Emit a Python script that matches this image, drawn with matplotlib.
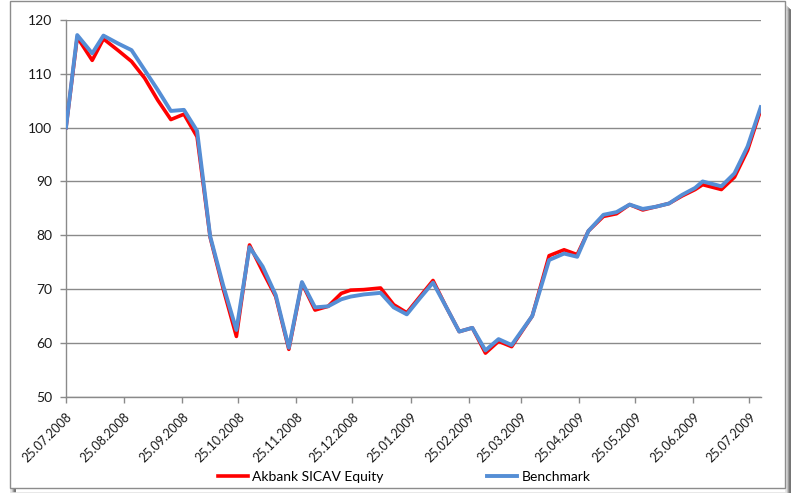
import numpy as np
import pandas as pd
import matplotlib
matplotlib.use("Agg")
import matplotlib.pyplot as plt
import matplotlib.dates as mdates
from matplotlib.patches import Rectangle

plt.rcParams["font.family"] = ["Lato", "DejaVu Sans"]

# NAV dates (weekly, with holiday / month-end shifts)
dates = [
    "25.07.2008", "31.07.2008", "08.08.2008", "14.08.2008", "22.08.2008", "29.08.2008",
    "05.09.2008", "12.09.2008", "19.09.2008", "26.09.2008", "03.10.2008", "10.10.2008",
    "17.10.2008", "24.10.2008", "31.10.2008", "07.11.2008", "14.11.2008", "21.11.2008",
    "28.11.2008", "05.12.2008", "12.12.2008", "19.12.2008", "24.12.2008", "31.12.2008",
    "09.01.2009", "16.01.2009", "23.01.2009", "30.01.2009", "06.02.2009", "13.02.2009",
    "20.02.2009", "27.02.2009", "06.03.2009", "13.03.2009", "20.03.2009", "31.03.2009",
    "09.04.2009", "17.04.2009", "24.04.2009", "30.04.2009", "08.05.2009", "15.05.2009",
    "22.05.2009", "29.05.2009", "05.06.2009", "12.06.2009", "19.06.2009", "26.06.2009",
    "30.06.2009", "10.07.2009", "17.07.2009", "24.07.2009", "31.07.2009",
]

fund = [
    100.0, 116.8, 112.5, 116.5, 114.3, 112.3,
    109.2, 105.1, 101.5, 102.5, 98.3, 79.6,
    70.0, 61.2, 78.2, 73.3, 68.6, 58.8,
    71.1, 66.1, 66.8, 69.2, 69.8, 69.9,
    70.2, 67.1, 65.6, 68.6, 71.6, 66.7,
    62.1, 62.8, 58.1, 60.3, 59.3, 65.0,
    76.2, 77.3, 76.4, 80.8, 83.5, 84.0,
    85.7, 84.7, 85.3, 85.9, 87.3, 88.5,
    89.4, 88.5, 90.8, 95.8, 103.3,
]

benchmark = [
    100.0, 117.2, 113.8, 117.1, 115.6, 114.4,
    110.7, 107.0, 103.1, 103.3, 99.4, 79.8,
    70.6, 62.4, 77.8, 74.2, 68.9, 59.1,
    71.3, 66.6, 66.8, 68.1, 68.6, 69.0,
    69.3, 66.6, 65.3, 68.3, 71.2, 66.7,
    62.1, 62.8, 58.6, 60.7, 59.6, 65.0,
    75.4, 76.6, 76.0, 80.8, 83.8, 84.3,
    85.7, 84.9, 85.3, 85.9, 87.5, 88.8,
    90.0, 89.1, 91.5, 96.5, 103.8,
]

series_names = ["Akbank SICAV Equity", "Benchmark"]

x = pd.to_datetime(dates, format="%d.%m.%Y")

fig = plt.figure(figsize=(7.95, 4.93), dpi=100)
ax = fig.add_axes([66 / 795, 1 - 396.7 / 493, (760.7 - 66) / 795, (396.7 - 20) / 493])

grid_c = "#8a8a8a"
ax.plot(x, fund, color="#ff0000", lw=2.6, label=series_names[0], solid_joinstyle="round", zorder=3)
ax.plot(x, benchmark, color="#558ed5", lw=2.8, label=series_names[1], solid_joinstyle="round", zorder=4)

ax.set_ylim(50, 120)
ax.set_yticks(np.arange(50, 121, 10))
ax.set_xlim(pd.Timestamp("2008-07-25"), pd.Timestamp("2009-07-31"))
ax.xaxis.set_major_locator(mdates.MonthLocator(bymonthday=25))
ax.xaxis.set_major_formatter(mdates.DateFormatter("%d.%m.%Y"))

ax.grid(axis="y", color=grid_c, lw=1.0)
ax.set_axisbelow(True)
for s in ("top", "right"):
    ax.spines[s].set_visible(False)
for s in ("left", "bottom"):
    ax.spines[s].set_color(grid_c)
    ax.spines[s].set_linewidth(1.0)

ax.tick_params(axis="both", colors=grid_c, length=4, width=1.0, labelcolor="#1a1a1a")
ax.tick_params(axis="y", labelsize=10, pad=6)
ax.tick_params(axis="x", labelsize=9, pad=6)
for lab in ax.get_xticklabels():
    lab.set_rotation(45)
    lab.set_ha("right")
    lab.set_va("top")
    lab.set_rotation_mode("anchor")

fig.legend(loc="center", bbox_to_anchor=(404 / 795, 1 - 477 / 493), ncol=2, frameon=False,
           fontsize=10, handlelength=2.2, handletextpad=0.3, columnspacing=7.4)

# chart-area frame with a soft shadow on the right / bottom
for i, c in enumerate(["#5a5a5a", "#7a7a7a", "#a0a0a0", "#c8c8c8", "#e4e4e4"]):
    off = 5 - i
    fig.patches.append(Rectangle((10 + off, 1 - off), 775, 487, transform=None,
                                 fill=False, edgecolor=c, lw=1.2, zorder=-2 + i * 0.1))
fig.patches.append(Rectangle((10 / 795, 1 - 488 / 493), 775 / 795, 487 / 493,
                             transform=fig.transFigure, facecolor="white",
                             edgecolor="#8c8c8c", lw=1.0, zorder=-1))

fig.savefig("out.png", dpi=100)
